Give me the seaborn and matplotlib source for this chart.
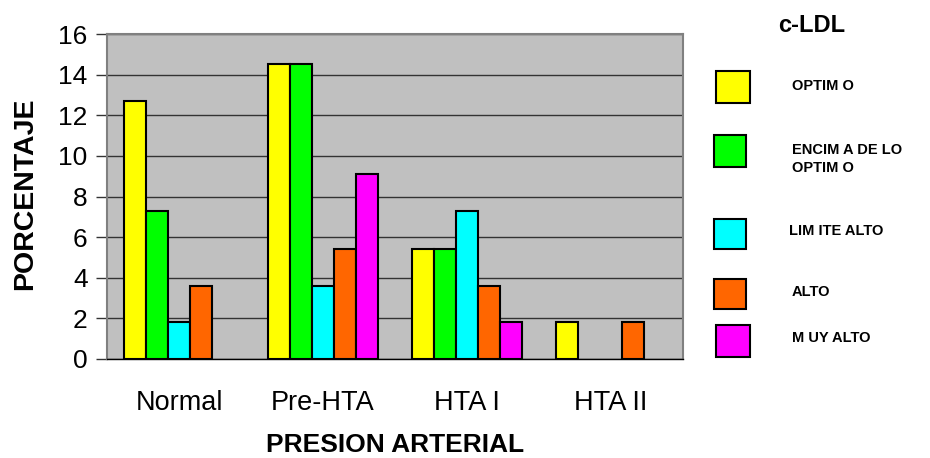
import numpy as np
import pandas as pd
import seaborn as sns
import matplotlib.pyplot as plt
from matplotlib.patches import Rectangle

categories = ["Normal", "Pre-HTA", "HTA I", "HTA II"]
series = ["OPTIM O", "ENCIM A DE LO\nOPTIM O", "LIM ITE ALTO", "ALTO", "M UY ALTO"]
optimo = [12.7, 14.5, 5.4, 1.8]
encima = [7.3, 14.5, 5.4, np.nan]
limite = [1.8, 3.6, 7.3, np.nan]
alto = [3.6, 5.4, 3.6, 1.8]
muy_alto = [np.nan, 9.1, 1.8, np.nan]
colors = ["#FFFF00", "#00FF00", "#00FFFF", "#FF6600", "#FF00FF"]
yticks = [0, 2, 4, 6, 8, 10, 12, 14, 16]

rows = []
for s, vals in zip(series, [optimo, encima, limite, alto, muy_alto]):
    for c, v in zip(categories, vals):
        rows.append({"cat": c, "serie": s, "val": v})
df = pd.DataFrame(rows)

sns.set_style("white")
plt.rcParams['font.family'] = ['Liberation Sans', 'DejaVu Sans']
plt.rcParams['text.color'] = 'black'
plt.rcParams['xtick.labelcolor'] = 'black'
plt.rcParams['ytick.labelcolor'] = 'black'

fig = plt.figure(figsize=(9.3, 4.58), dpi=100)
ax = fig.add_axes([107/930, 1-359/458, (683-107)/930, (359-34)/458])
ax.set_facecolor("#C0C0C0")

sns.barplot(data=df, x="cat", y="val", hue="serie", order=categories,
            hue_order=series, palette=colors, width=0.764, ax=ax,
            edgecolor="black", linewidth=1.5, legend=False, errorbar=None,
            saturation=1)

ax.set_ylim(0, 16)
ax.set_xlim(-0.5, 3.5)
ax.set_yticks(yticks)
ax.set_yticklabels([str(t) for t in yticks], fontsize=19, color="black")
ax.yaxis.grid(True, color="#333333", linewidth=1.0)
ax.set_axisbelow(True)

ax.set_xticks(range(4))
ax.set_xticklabels(categories, fontsize=19.5, color="black")
ax.tick_params(axis="x", which="major", length=0, pad=22)
ax.set_xticks([0.5, 1.5, 2.5, 3.5], minor=True)
ax.tick_params(axis="x", which="minor", length=6, width=1, color="#333333", direction="out")
ax.tick_params(axis="y", length=8, width=1, color="#333333", direction="out", pad=6, left=True)

for sp in ["left", "top", "right"]:
    ax.spines[sp].set_color("#808080")
    ax.spines[sp].set_linewidth(1.5)
ax.spines["bottom"].set_color("black")
ax.spines["bottom"].set_linewidth(1.0)

ax.set_xlabel("")
ax.set_ylabel("")
fig.text(395/930, 1-445/458, "PRESION ARTERIAL", ha="center", va="center",
         fontsize=19, fontweight="bold", color="black")
fig.text(25/930, 1-194/458, "PORCENTAJE", ha="center", va="center",
         fontsize=20.5, fontweight="bold", rotation=90, color="black")

# legend
fig.text(812/930, 1-26/458, "c-LDL", ha="center", va="center", fontsize=17,
         fontweight="bold", color="black")
boxes = [(716, 71, 34, 32), (714, 135, 32, 32), (714, 219, 32, 30), (714, 279, 32, 30), (716, 325, 34, 32)]
text_pos = [(792, 86), (792, 159), (789, 231), (792, 292), (792, 338)]
for (x, y, w, h), col, lab, (tx, ty) in zip(boxes, colors, series, text_pos):
    fig.patches.append(Rectangle((x/930, 1-(y+h)/458), w/930, h/458, transform=fig.transFigure,
                                 facecolor=col, edgecolor="black", linewidth=1.5))
    fig.text(tx/930, 1-ty/458, lab, ha="left", va="center", fontsize=10.5,
             fontweight="bold", linespacing=1.45, color="black")

fig.savefig("out.png", dpi=100)
